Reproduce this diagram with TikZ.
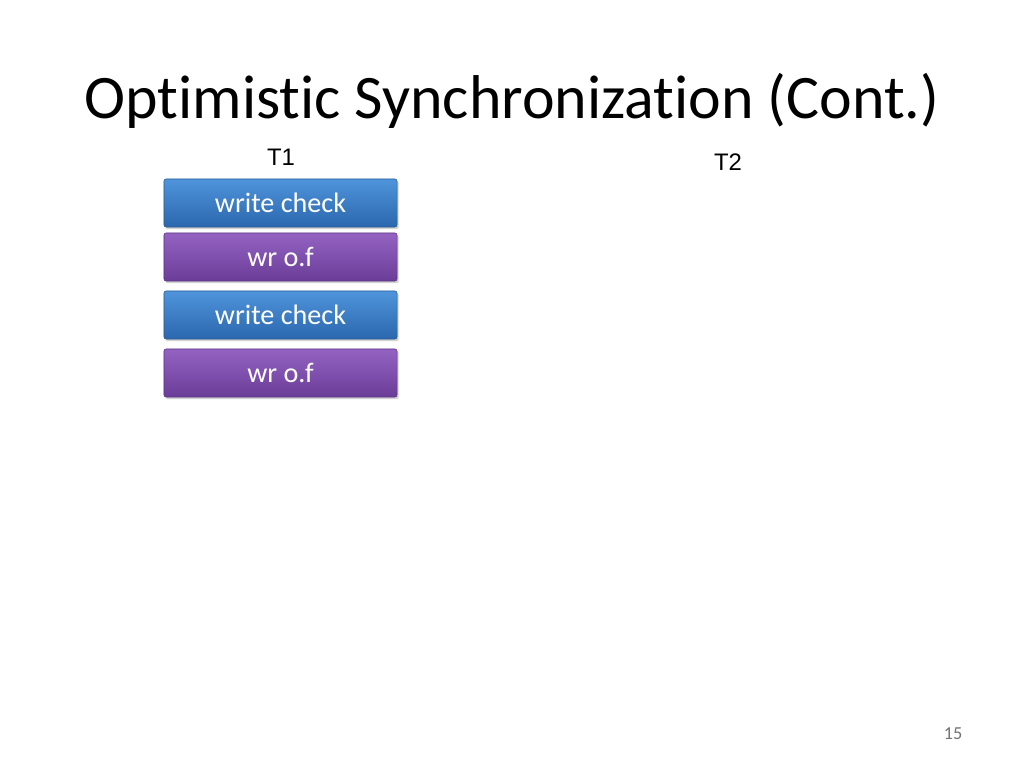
\documentclass[tikz,border=0pt]{standalone}
\usepackage{fontspec}
\setmainfont[RawFeature=-liga]{Carlito}
\newfontfamily\arialfont{Liberation Sans}
\usetikzlibrary{shadows}

\begin{document}
\begin{tikzpicture}[x=0.025cm,y=-0.025cm]
\definecolor{chkTop}{HTML}{4F94DB}
\definecolor{chkBot}{HTML}{2B67AE}
\definecolor{chkLine}{HTML}{2A5C95}
\definecolor{wrTop}{HTML}{9463C2}
\definecolor{wrBot}{HTML}{6A3D98}
\definecolor{wrLine}{HTML}{5B3385}
\tikzset{
  opbox/.style={minimum width=5.825cm,minimum height=1.2cm,inner sep=0pt,
    rounded corners=1.5pt,text=white,font=\fontsize{20}{24}\selectfont,
    drop shadow={shadow xshift=1.2pt,shadow yshift=-1.5pt,opacity=0.35}},
  chkbox/.style={opbox,top color=chkTop,bottom color=chkBot,draw=chkLine},
  wrbox/.style={opbox,top color=wrTop,bottom color=wrBot,draw=wrLine},
  thr/.style={font=\arialfont\fontsize{17}{20}\selectfont}
}
\useasboundingbox[fill=white] (0,0) rectangle (1024,768);
\node[font=\fontsize{44}{50}\selectfont] (title) at (512,101) {Optimistic Synchronization (Cont.)};
\node[thr] (t1) at (281,157) {T1};
\node[thr] (t2) at (728,162) {T2};
\node[chkbox] (chk1) at (280.5,203) {write check};
\node[wrbox] (wr1) at (280.5,257) {wr o.f};
\node[chkbox] (chk2) at (280.5,315) {write check};
\node[wrbox] (wr2) at (280.5,373) {wr o.f};
\node[text=black!55,font=\fontsize{13}{15}\selectfont] (pg) at (953,734) {15};
\end{tikzpicture}
\end{document}
